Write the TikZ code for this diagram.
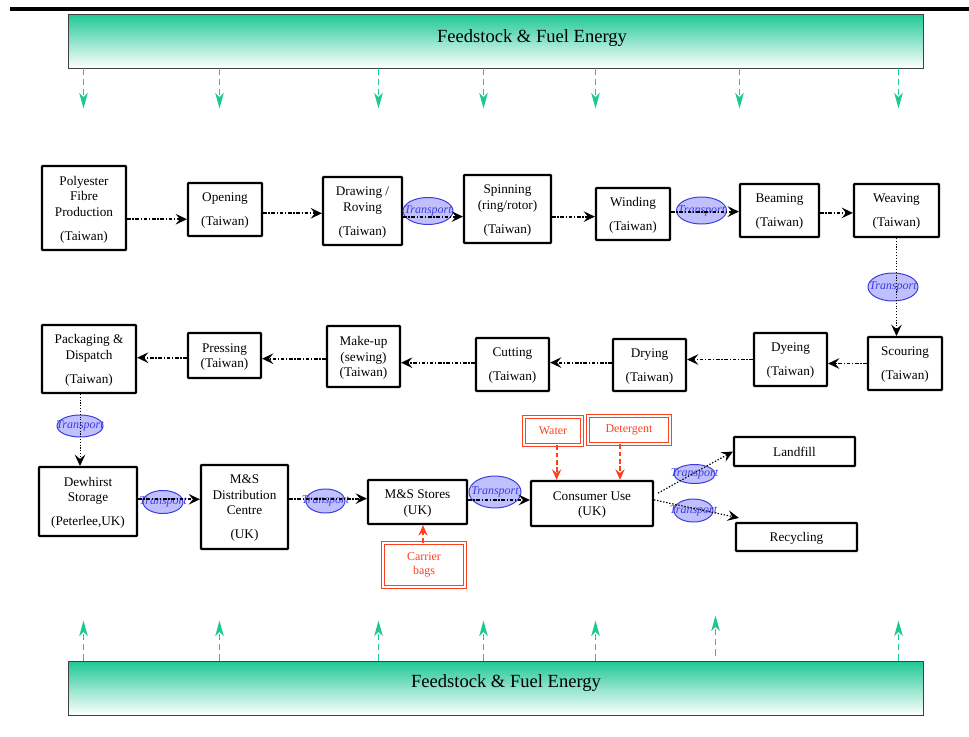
\documentclass[tikz,border=0pt]{standalone}
\usepackage{fontspec}
\setmainfont{Liberation Serif}
\usetikzlibrary{arrows.meta,shapes.geometric,calc}
\definecolor{fgreen}{RGB}{30,200,148}
\definecolor{rred}{RGB}{255,64,32}
\definecolor{tblue}{RGB}{60,60,220}
\definecolor{tfill}{RGB}{192,192,255}
\newcommand{\transp}{\makebox[0pt]{Transport}}
\begin{document}
\begin{tikzpicture}[x=0.025cm,y=-0.025cm,
  proc/.style 2 args={draw, line width=1.5pt, rounded corners=0.4pt, minimum width=#1*0.025cm, minimum height=#2*0.025cm, inner sep=1pt, align=center, text depth=-2pt, font=\fontsize{9.4}{11}\selectfont},
  down/.style={text depth=#1},
  tr/.style 2 args={ellipse, draw=tblue, fill=tfill, line width=0.7pt, minimum width=#1*0.025cm, minimum height=#2*0.025cm, inner sep=0pt, font=\fontsize{8.5}{10}\selectfont\itshape, text=tblue},
  rbox/.style 2 args={draw=rred, double=white, double distance=1.4pt, line width=0.6pt, text=rred, minimum width=#1*0.025cm, minimum height=#2*0.025cm, inner sep=1pt, align=center, font=\fontsize{8.5}{10}\selectfont},
  bar/.style={draw=black!75, line width=0.7pt, top color=fgreen, bottom color=white, minimum width=855*0.025cm, minimum height=54*0.025cm, inner sep=0pt},
  bartext/.style={font=\fontsize{13.2}{15}\selectfont},
  flow/.style={line width=1.35pt, dash pattern=on 2.6pt off 1.2pt on 0.9pt off 1.2pt, -{Stealth[length=8pt,width=7.5pt,inset=3pt]}},
  vflow/.style={line width=0.6pt, dash pattern=on 0.8pt off 1.2pt, -{Stealth[length=8pt,width=7.5pt,inset=3pt]}},
  dflow/.style={line width=0.8pt, dash pattern=on 1pt off 1.2pt, -{Stealth[length=8pt,width=7.5pt,inset=3pt]}},
  rflow/.style={draw=rred, line width=1.4pt, dash pattern=on 3.2pt off 2pt, -{Stealth[length=7.5pt,width=6.5pt,inset=2.5pt]}},
  garrow/.style={draw=fgreen, line width=1.4pt, dash pattern=on 4.5pt off 2.8pt, -{Stealth[length=11pt,width=6pt,inset=3pt]}}
]
\useasboundingbox (0,0) rectangle (969,737);
\draw[line width=2.8pt] (10,9) -- (969,9);

% energy bars
\node[bar] (topbar) at (495.5,41) {};
\node[bartext] (toptext) at (532,38) {Feedstock \& Fuel Energy};
\node[bar] (botbar) at (495.5,688) {};
\node[bartext] (bottext) at (506,683) {Feedstock \& Fuel Energy};
\foreach \x in {84,220,379,484,596,740,899}
  \draw[garrow] ($(topbar.south west)+(\x-68,0)$) -- ++(0,40);
\foreach \x in {84,220,379,484,596,899}
  \draw[garrow] ($(botbar.north west)+(\x-68,0)$) -- ++(0,-40);
\draw[garrow] ($(botbar.north west)+(716-68,-5)$) -- ++(0,-40);

% row 1
\node[proc={84}{84},down=-7pt] (poly) at (84,208) {Polyester\\Fibre\\Production\\[6pt](Taiwan)};
\node[proc={74}{53}] (open) at (225,209.5) {Opening\\[6pt](Taiwan)};
\node[proc={79}{68},down=-4.6pt] (drw) at (362.5,211) {Drawing /\\Roving\\[6pt](Taiwan)};
\node[proc={87}{68},down=-4.6pt] (spin) at (507.5,209) {Spinning\\(ring/rotor)\\[6pt](Taiwan)};
\node[proc={74}{52}] (wind) at (633,214) {Winding\\[6pt](Taiwan)};
\node[proc={79}{53}] (beam) at (779.5,210.5) {Beaming\\[6pt](Taiwan)};
\node[proc={85}{53}] (weave) at (896.5,210.5) {Weaving\\[6pt](Taiwan)};

% row 2
\node[proc={94}{68},down=-4.6pt] (pack) at (89,359) {Packaging \&\\Dispatch\\[6pt](Taiwan)};
\node[proc={73}{45}] (press) at (224.5,355.5) {Pressing\\(Taiwan)};
\node[proc={73}{61},down=-3pt] (make) at (363.5,356.5) {Make-up\\(sewing)\\(Taiwan)};
\node[proc={73}{53}] (cut) at (512.5,364.5) {Cutting\\[6pt](Taiwan)};
\node[proc={73}{52}] (dry) at (649.5,365) {Drying\\[6pt](Taiwan)};
\node[proc={73}{53}] (dye) at (790.5,359.5) {Dyeing\\[6pt](Taiwan)};
\node[proc={74}{53}] (scour) at (905,363.5) {Scouring\\[6pt](Taiwan)};

% row 3
\node[proc={98}{69},down=-4.6pt] (dew) at (88,501.5) {Dewhirst\\Storage\\[6pt](Peterlee,UK)};
\node[proc={87}{84},down=-5.5pt] (msdc) at (244.5,507) {M\&S\\Distribution\\Centre\\[6pt](UK)};
\node[proc={99}{44}] (store) at (417.5,502) {M\&S Stores\\(UK)};
\node[proc={122}{45}] (cons) at (592,503.5) {Consumer Use\\(UK)};
\node[proc={121}{29},down=-0.5pt] (land) at (794.5,451.5) {Landfill};
\node[proc={121}{28},down=-0.5pt] (recy) at (796.5,537) {Recycling};

% inputs
\node[rbox={58}{28}] (water) at (553,431) {Water};
\node[rbox={82}{28}] (deter) at (629,430) {Detergent};
\node[rbox={82}{44}] (bags) at (424,565) {Carrier\\bags};

% transport ellipses
\node[tr={50}{27}] (t1) at (428,211) {\transp};
\node[tr={50}{27}] (t2) at (701.5,210.5) {\transp};
\node[tr={50}{28}] (t3) at (893,287) {\transp};
\node[tr={46}{22}] (t4) at (80,426) {\transp};
\node[tr={40}{23}] (t5) at (163,502) {\transp};
\node[tr={39}{24}] (t6) at (325.5,501) {\transp};
\node[tr={52}{32}] (t7) at (495,492) {\transp};
\node[tr={41}{19}] (t8) at (694.5,474) {\transp};
\node[tr={39}{23}] (t9) at (693.5,510.5) {\transp};

% row 1 flows
\draw[flow] ([yshift=-0.28cm]poly.east) -- ([yshift=-0.28cm]poly.east -| open.west);
\draw[flow] ([yshift=-0.095cm]open.east) -- ([yshift=-0.095cm]open.east -| drw.west);
\draw[flow] ([yshift=-0.14cm]drw.east) -- ([yshift=-0.14cm]drw.east -| spin.west);
\draw[flow] ([yshift=-0.19cm]spin.east) -- ([yshift=-0.19cm]spin.east -| wind.west);
\draw[flow] ([yshift=0.06cm]wind.east) -- ([yshift=0.06cm]wind.east -| beam.west);
\draw[flow] ([yshift=-0.06cm]beam.east) -- ([yshift=-0.06cm]beam.east -| weave.west);
\draw[vflow] (weave.south) -- (weave.south |- scour.north);

% row 2 flows
\draw[flow] (scour.west) -- (scour.west -| dye.east);
\draw[flow] (dye.west) -- (dye.west -| dry.east);
\draw[flow] ([yshift=0.06cm]dry.west) -- ([yshift=0.06cm]dry.west -| cut.east);
\draw[flow] ([yshift=0.045cm]cut.west) -- ([yshift=0.045cm]cut.west -| make.east);
\draw[flow] ([yshift=-0.055cm]make.west) -- ([yshift=-0.055cm]make.west -| press.east);
\draw[flow] ([yshift=-0.055cm]press.west) -- ([yshift=-0.055cm]press.west -| pack.east);
\draw[vflow] ([xshift=-0.225cm]pack.south) -- ([xshift=-0.225cm]pack.south |- dew.north);

% row 3 flows
\draw[flow] ([yshift=0.055cm]dew.east) -- ([yshift=0.055cm]dew.east -| msdc.west);
\draw[flow] ([yshift=0.21cm]msdc.east) -- ([yshift=0.21cm]msdc.east -| store.west);
\draw[flow] ([yshift=0.05cm]store.east) -- ([yshift=0.05cm]store.east -| cons.west);
\draw[dflow] ([xshift=0.1cm,yshift=0.26cm]cons.east) -- (land.west);
\draw[dflow] ([yshift=0.09cm]cons.east) -- ([xshift=0.1cm,yshift=0.1cm]recy.north west);

% input flows
\draw[rflow] ([xshift=0.09cm]water.south) -- ([xshift=0.09cm]water.south |- cons.north);
\draw[rflow] ([xshift=-0.225cm]deter.south) -- ([xshift=-0.225cm]deter.south |- cons.north);
\draw[rflow] ([xshift=-0.025cm]bags.north) -- ([xshift=-0.025cm]bags.north |- store.south);
\end{tikzpicture}
\end{document}
